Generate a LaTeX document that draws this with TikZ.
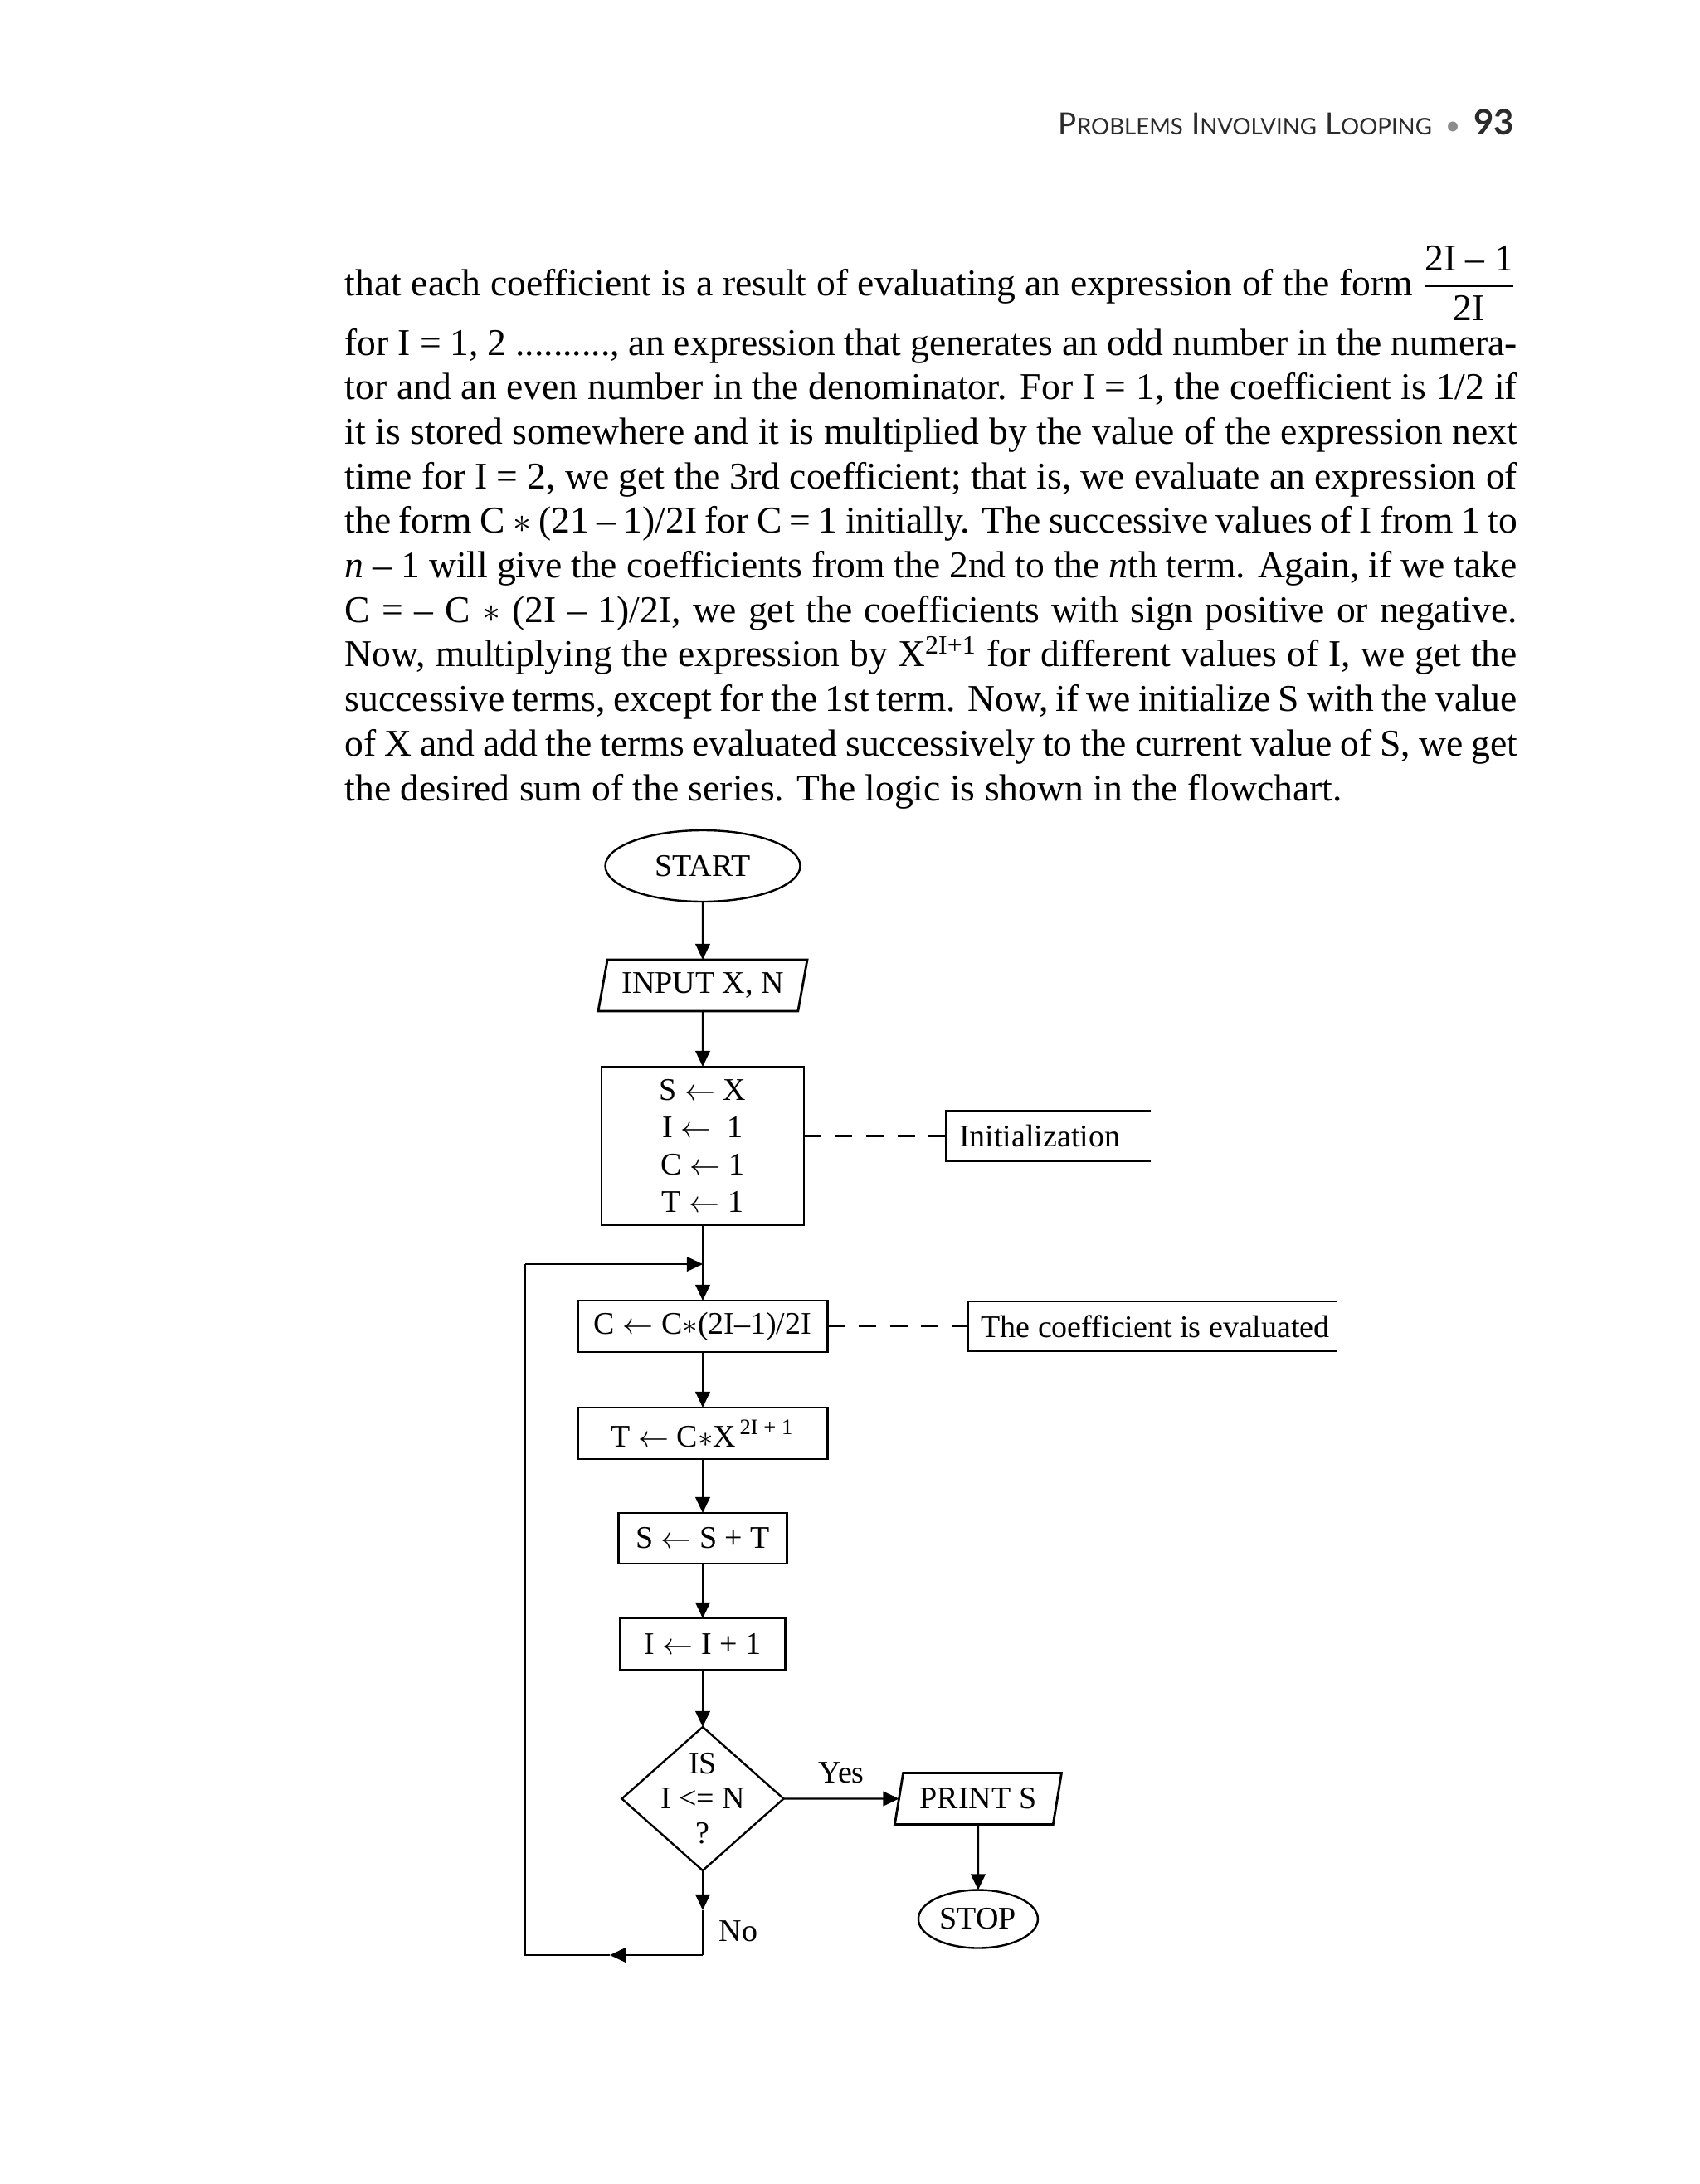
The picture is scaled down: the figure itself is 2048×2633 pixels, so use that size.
\documentclass[tikz,border=0pt]{standalone}
\usepackage{amsmath}
\usepackage{fontspec}
\setmainfont{Liberation Serif}
\newfontfamily\headfont{Lato}
\usetikzlibrary{arrows.meta,positioning,shapes.geometric}
\definecolor{headgray}{HTML}{2B2B2B}
\definecolor{dotgray}{HTML}{8C8C8C}
\newcommand{\bodyfont}{\fontsize{11.4}{13.4}\selectfont}
\newcommand{\chartfont}{\fontsize{9.5}{11.25}\selectfont}
\newcommand{\fakesc}[2]{{\fontsize{9.2}{10}\selectfont #1}{\fontsize{6.9}{8}\selectfont #2}}
\newcommand{\textline}[1]{\makebox[353.25pt][s]{#1}}
\tikzset{
  procbox/.style={draw, line width=0.7pt, minimum height=15.5pt, inner sep=2pt, outer sep=0pt, font=\chartfont},
  iobox/.style={trapezium, trapezium left angle=79, trapezium right angle=101,
    trapezium stretches body, draw, line width=0.7pt, minimum height=15.5pt, outer sep=0pt, font=\chartfont},
  termbox/.style={ellipse, draw, line width=0.6pt, inner sep=0pt, outer sep=0pt, font=\chartfont},
  decision/.style={diamond, draw, line width=0.6pt, inner sep=0pt, outer sep=0pt,
    minimum width=48.75pt, minimum height=43.25pt},
  notebox/.style={inner xsep=4pt, inner ysep=0pt, outer sep=0pt, minimum height=15pt, font=\chartfont},
  noteedge/.style={line width=0.7pt},
  arr/.style={-{Triangle[length=4.8pt,width=4.4pt]}, line width=0.55pt},
  flowline/.style={line width=0.55pt},
  dashline/.style={line width=0.6pt, dash pattern=on 5.2pt off 4.2pt},
  para/.style={anchor=base west, inner sep=0pt, font=\bodyfont}
}

\begin{document}
\begin{tikzpicture}[x=0.25pt, y=-0.25pt]
  \useasboundingbox (0,0) rectangle (2048,2633);

  % running head
  \node[anchor=base east, inner sep=0pt, text=headgray] (runhead) at (1826,163)
    {\headfont\fakesc{P}{ROBLEMS} \fakesc{I}{NVOLVING} \fakesc{L}{OOPING}\hspace{4pt}{\color{dotgray}\fontsize{8}{9}\selectfont\textbullet}\hspace{4pt}{\fontsize{10.5}{12}\selectfont\bfseries 93}};

  % text of the page
  \node[para] (l1) at (415,356) {\textline{that each coefficient is a result of evaluating an expression of the form\hspace{2.5pt}$\displaystyle\frac{\mbox{2I -- 1}}{\mbox{2I}}$}};
  \node[para] (l2) at (415,428) {\textline{for I = 1, 2 .........., an expression that generates an odd number in the numera-}};
  \node[para] (l3) at (415,481.7) {\textline{tor and an even number in the denominator. For I = 1, the coefficient is 1/2 if}};
  \node[para] (l4) at (415,535.4) {\textline{it is stored somewhere and it is multiplied by the value of the expression next}};
  \node[para] (l5) at (415,589.1) {\textline{time for I = 2, we get the 3rd coefficient; that is, we evaluate an expression of}};
  \node[para] (l6) at (415,642.8) {\textline{the form C \ensuremath{\ast} (21 -- 1)/2I for C = 1 initially. The successive values of I from 1 to}};
  \node[para] (l7) at (415,696.5) {\textline{\textit{n} -- 1 will give the coefficients from the 2nd to the \textit{n}th term. Again, if we take}};
  \node[para] (l8) at (415,750.2) {\textline{C = -- C \ensuremath{\ast} (2I -- 1)/2I, we get the coefficients with sign positive or negative.}};
  \node[para] (l9) at (415,803.9) {\textline{Now, multiplying the expression by X\textsuperscript{2I+1} for different values of I, we get the}};
  \node[para] (l10) at (415,857.6) {\textline{successive terms, except for the 1st term. Now, if we initialize S with the value}};
  \node[para] (l11) at (415,911.3) {\textline{of X and add the terms evaluated successively to the current value of S, we get}};
  \node[para] (l12) at (415,965) {the desired sum of the series. The logic is shown in the flowchart.};

  % flowchart
  \node[termbox, minimum width=58.75pt, minimum height=21.5pt] (start) at (847,1044) {START};
  \node[iobox, minimum width=63pt, below=17.5pt of start] (input) {INPUT X, N};
  \node[procbox, minimum width=61pt, minimum height=47.75pt, align=center, below=16.75pt of input] (init)
    {S $\leftarrow$ X\\I $\leftarrow$\ \ 1\\C $\leftarrow$ 1\\T $\leftarrow$ 1};
  \node[procbox, minimum width=75.25pt, below=22.75pt of init] (coef) {C $\leftarrow$ C$\ast$(2I--1)/2I};
  \node[procbox, minimum width=75.25pt, below=16.75pt of coef] (term) {T $\leftarrow$ C$\ast$X\textsuperscript{\,2I + 1}};
  \node[procbox, minimum width=50.75pt, minimum height=15.25pt, below=16.25pt of term] (sum) {S $\leftarrow$ S + T};
  \node[procbox, minimum width=49.75pt, below=16.5pt of sum] (incr) {I $\leftarrow$ I + 1};
  \node[decision, below=17.25pt of incr] (test) {};
  \node[font={\fontsize{9.5}{10.5}\selectfont}, align=center, inner sep=0pt] (testtext) at (test) {IS\\I <= N\\?};
  \node[iobox, minimum width=50.25pt, right=34.75pt of test] (print) {PRINT S};
  \node[termbox, minimum width=36pt, minimum height=17.5pt, below=19.75pt of print] (stop) {STOP};

  % side notes
  \node[notebox, right=42.75pt of init, yshift=3pt] (initnote) {\makebox[53.75pt][l]{Initialization}};
  \node[notebox, right=42.25pt of coef] (coefnote) {\makebox[103pt][l]{The coefficient is evaluated}};
  \draw[noteedge] (initnote.north east) -- (initnote.north west) -- (initnote.south west) -- (initnote.south east);
  \draw[noteedge] (coefnote.north east) -- (coefnote.north west) -- (coefnote.south west) -- (coefnote.south east);
  \draw[dashline] (init.east |- initnote.west) -- (initnote.west);
  \draw[dashline] (coef.east |- coefnote.west) -- (coefnote.west);

  % connectors
  \draw[arr] (start) -- (input);
  \draw[arr] (input) -- (init);
  \draw[arr] (init) -- (coef);
  \draw[arr] (coef) -- (term);
  \draw[arr] (term) -- (sum);
  \draw[arr] (sum) -- (incr);
  \draw[arr] (incr) -- (test);
  \draw[arr] (test) -- node[above=1pt, font=\chartfont] (yeslabel) {Yes} (print);
  \draw[arr] (print) -- (stop);

  % loop back
  \coordinate (notip) at (847,2303);
  \coordinate (nocorner) at (847,2357);
  \coordinate (backtip) at (735,2357);
  \coordinate (loopcorner) at (633,2357);
  \coordinate (looptop) at (633,1524);
  \coordinate (loopjoin) at (847,1524);
  \draw[arr] (test) -- (notip);
  \draw[flowline] (notip) -- (nocorner);
  \draw[arr] (nocorner) -- (backtip);
  \draw[flowline] (backtip) -- (loopcorner) -- (looptop);
  \draw[arr] (looptop) -- (loopjoin);
  \node[font=\chartfont] (nolabel) at (890,2328) {No};
\end{tikzpicture}
\end{document}
